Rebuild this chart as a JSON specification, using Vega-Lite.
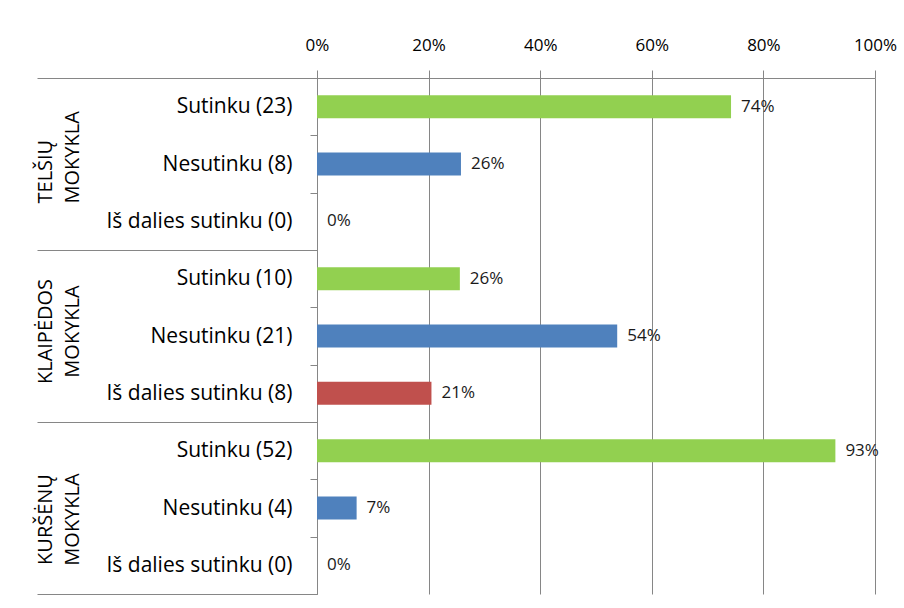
{
  "$schema": "https://vega.github.io/schema/vega-lite/v6.json",
  "width": 558,
  "height": 516,
  "autosize": {"type": "none"},
  "padding": {"left": 317, "top": 78, "right": 29, "bottom": 14},
  "background": "white",
  "config": {"view": {"stroke": null}, "font": "Open Sans"},
  "data": {
    "values": [
      {"group": "TELŠIŲ MOKYKLA", "id": "T|Sutinku (23)", "resp": "Sutinku", "pct": 0.742},
      {"group": "TELŠIŲ MOKYKLA", "id": "T|Nesutinku (8)", "resp": "Nesutinku", "pct": 0.258},
      {"group": "TELŠIŲ MOKYKLA", "id": "T|Iš dalies sutinku (0)", "resp": "Iš dalies sutinku", "pct": 0},
      {"group": "KLAIPĖDOS MOKYKLA", "id": "K|Sutinku (10)", "resp": "Sutinku", "pct": 0.256},
      {"group": "KLAIPĖDOS MOKYKLA", "id": "K|Nesutinku (21)", "resp": "Nesutinku", "pct": 0.538},
      {"group": "KLAIPĖDOS MOKYKLA", "id": "K|Iš dalies sutinku (8)", "resp": "Iš dalies sutinku", "pct": 0.2051},
      {"group": "KURŠĖNŲ MOKYKLA", "id": "R|Sutinku (52)", "resp": "Sutinku", "pct": 0.929},
      {"group": "KURŠĖNŲ MOKYKLA", "id": "R|Nesutinku (4)", "resp": "Nesutinku", "pct": 0.071},
      {"group": "KURŠĖNŲ MOKYKLA", "id": "R|Iš dalies sutinku (0)", "resp": "Iš dalies sutinku", "pct": 0}
    ]
  },
  "layer": [
    {
      "layer": [
        {
          "mark": {"type": "bar", "height": {"band": 0.4}},
          "encoding": {
            "x": {
              "field": "pct", "type": "quantitative",
              "scale": {"domain": [0, 1]},
              "axis": {
                "orient": "top", "values": [0, 0.2, 0.4, 0.6, 0.8, 1], "format": ".0%",
                "grid": true, "gridColor": "#868686", "gridOpacity": 1,
                "tickSize": 8, "tickColor": "#868686",
                "domain": true, "domainColor": "#868686",
                "labelFontSize": 17, "labelColor": "#000000", "labelPadding": 16,
                "labelFlush": false, "labelBound": false, "title": null
              }
            },
            "y": {
              "field": "id", "type": "nominal", "sort": null,
              "scale": {"paddingInner": 0, "paddingOuter": 0},
              "axis": {
                "orient": "left", "tickBand": "extent", "tickSize": 7, "tickColor": "#868686",
                "domainColor": "#868686",
                "labelExpr": "isValid(datum.value) ? split(datum.value, '|')[1] : ''",
                "labelFontSize": 21, "labelColor": "#000000", "labelPadding": 18,
                "labelLimit": 300, "title": null
              }
            },
            "color": {
              "field": "resp", "type": "nominal",
              "scale": {"domain": ["Sutinku", "Nesutinku", "Iš dalies sutinku"], "range": ["#92D050", "#4F81BD", "#C0504D"]},
              "legend": null
            }
          }
        },
        {
          "mark": {"type": "text", "align": "left", "baseline": "middle", "dx": 10, "fontSize": 17, "color": "#1a1a1a"},
          "encoding": {
            "x": {"field": "pct", "type": "quantitative"},
            "y": {"field": "id", "type": "nominal", "sort": null},
            "text": {"field": "pct", "type": "quantitative", "format": ".0%"}
          }
        }
      ]
    },
    {
      "mark": {"type": "point", "opacity": 0},
      "encoding": {
        "y": {
          "field": "group", "type": "nominal", "sort": null,
          "scale": {"paddingInner": 0, "paddingOuter": 0},
          "axis": {
            "orient": "left", "tickBand": "extent", "tickSize": 280, "tickColor": "#868686",
            "domain": false,
            "labelExpr": "isValid(datum.value) ? split(datum.value, ' ') : ''",
            "labelAngle": 270,
            "labelAlign": {"condition": {"test": "datum.value == 'TELŠIŲ MOKYKLA'", "value": "left"}, "value": "center"},
            "labelOffset": {"condition": [
              {"test": "datum.value == 'TELŠIŲ MOKYKLA'", "value": 39},
              {"test": "datum.value == 'KLAIPĖDOS MOKYKLA'", "value": -5},
              {"test": "datum.value == 'KURŠĖNŲ MOKYKLA'", "value": 11}
            ], "value": 0},
            "labelBaseline": "bottom",
            "labelFontSize": 20, "labelLineHeight": 27, "labelColor": "#000000",
            "labelPadding": -18, "title": null
          }
        }
      }
    }
  ],
  "resolve": {"scale": {"y": "independent"}, "axis": {"y": "independent"}}
}
